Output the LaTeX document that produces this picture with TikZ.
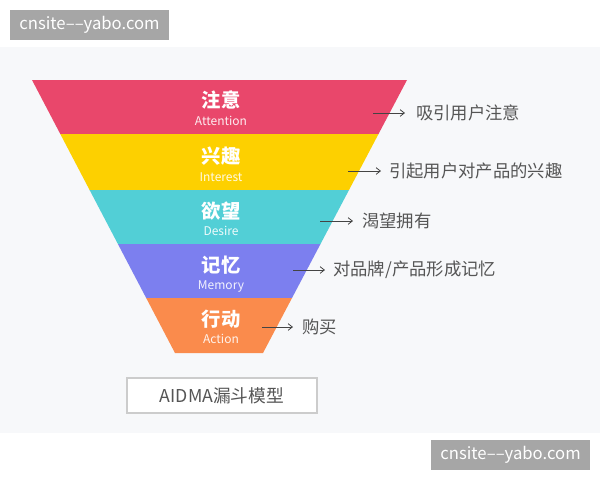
\documentclass[tikz,border=0pt]{standalone}
\usepackage{fontspec}
\setmainfont{Noto Sans CJK SC}
\usetikzlibrary{arrows.meta}
\definecolor{bgpanel}{HTML}{F7F8FA}
\definecolor{wmgray}{HTML}{A6A6A6}
\definecolor{cAtt}{HTML}{E9476B}
\definecolor{cInt}{HTML}{FDD000}
\definecolor{cDes}{HTML}{52CFD6}
\definecolor{cMem}{HTML}{7C7FEF}
\definecolor{cAct}{HTML}{FA8B4C}
\definecolor{txtgray}{HTML}{555555}
\definecolor{boxline}{HTML}{CCCCCC}
\tikzset{
  cn/.style={text=white, font=\fontsize{14.5}{16}\selectfont\bfseries, inner sep=0pt},
  en/.style={text=white, font=\fontsize{9}{10}\selectfont, inner sep=0pt, opacity=0.9},
  desc/.style={text=txtgray, font=\fontsize{13}{15}\selectfont, anchor=west, inner sep=0pt},
  pointer/.style={draw=txtgray!80!black, line width=0.6pt, -{Straight Barb[length=3.2pt,width=5pt]}},
  wm/.style={fill=wmgray, text=white, font=\fontsize{12.5}{14}\selectfont, minimum width=119.25pt, minimum height=22.5pt, inner sep=0pt},
  titlebox/.style={draw=boxline, fill=white, line width=0.8pt, text=txtgray, font=\fontsize{13.3}{15}\selectfont, minimum width=142.5pt, minimum height=26.25pt, inner sep=0pt}
}
\begin{document}
\begin{tikzpicture}[x=0.75pt,y=-0.75pt]
\useasboundingbox (0,0) rectangle (600,480);
\fill[white] (0,0) rectangle (600,480);
\fill[bgpanel] (0,47) rectangle (600,433);
% watermarks
\node[wm] (wm1) at (89.5,25) {cnsite{–}{–}yabo.com};
\node[wm] (wm2) at (510.5,455) {cnsite{–}{–}yabo.com};
% funnel bands
\fill[cAtt] (32,80) -- (407,80) -- (378.5,134) -- (60.3,134) -- cycle;
\fill[cInt] (60.3,134) -- (378.5,134) -- (349,190) -- (89.6,190) -- cycle;
\fill[cDes] (89.6,190) -- (349,190) -- (320.5,244) -- (117.9,244) -- cycle;
\fill[cMem] (117.9,244) -- (320.5,244) -- (292,298) -- (146.2,298) -- cycle;
\fill[cAct] (146.2,298) -- (292,298) -- (263,353) -- (175,353) -- cycle;
% labels
\node[cn] (a1) at (221,100) {注意};
\node[en] (a2) at (221,121) {Attention};
\node[cn] (i1) at (221,156) {兴趣};
\node[en] (i2) at (221,177) {Interest};
\node[cn] (d1) at (221,211) {欲望};
\node[en] (d2) at (221,231) {Desire};
\node[cn] (m1) at (221,265) {记忆};
\node[en] (m2) at (221,286) {Memory};
\node[cn] (c1) at (221,319) {行动};
\node[en] (c2) at (221,339) {Action};
% descriptions
\node[desc] (t1) at (416,113) {吸引用户注意};
\node[desc] (t2) at (389,171) {引起用户对产品的兴趣};
\node[desc] (t3) at (362,221) {渴望拥有};
\node[desc] (t4) at (333,270) {对品牌/产品形成记忆};
\node[desc] (t5) at (302,327) {购买};
\coordinate (s1) at (373,113);
\coordinate (s2) at (348,171);
\coordinate (s3) at (320,221);
\coordinate (s4) at (293,270);
\coordinate (s5) at (262,327);
\draw[pointer] (s1) -- ([xshift=-8.25pt]t1.west);
\draw[pointer] (s2) -- ([xshift=-6pt]t2.west);
\draw[pointer] (s3) -- ([xshift=-6.75pt]t3.west);
\draw[pointer] (s4) -- ([xshift=-6pt]t4.west);
\draw[pointer] (s5) -- ([xshift=-6.75pt]t5.west);
% title box
\node[titlebox] (title) at (222,395.5) {AIDMA漏斗模型};
\end{tikzpicture}
\end{document}
